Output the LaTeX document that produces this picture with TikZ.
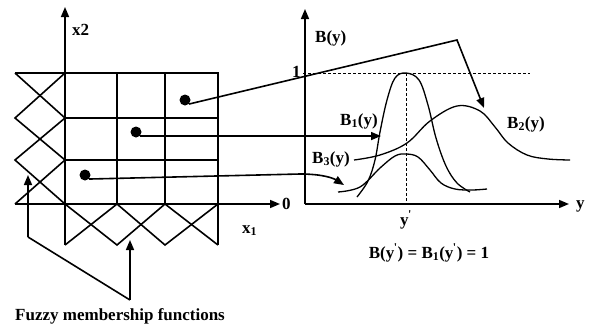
\documentclass[tikz,border=0pt]{standalone}
\usepackage{fontspec}
\setmainfont{Liberation Serif}
\usetikzlibrary{arrows.meta}
\newcommand{\prm}{\kern-0.5pt\textsuperscript{\textquotesingle}}
\begin{document}
\begin{tikzpicture}[x=1pt,y=-1pt,
  ln/.style={line width=1.6pt},
  thin/.style={line width=1.3pt},
  arr/.style={line width=1.6pt,-{Triangle[length=10pt,width=8pt]}},
  dot/.style={circle,fill=black,inner sep=0pt,minimum size=11pt},
  lbl/.style={font=\bfseries\fontsize{17}{19}\selectfont,inner sep=0pt},
  dsh/.style={line width=1pt,dash pattern=on 3pt off 2pt}]
\useasboundingbox (0,0) rectangle (589,335);
% ---- left grid
\draw[ln] (15,73) -- (218,73) -- (218,245);
\draw[ln] (65,118) -- (218,118);
\draw[ln] (65,160) -- (218,160);
\draw[ln] (117,73) -- (117,204);
\draw[ln] (165,73) -- (165,204);
\draw[ln] (65,204) -- (65,245);
% left membership functions
\draw[ln] (15,73) -- (65,118) -- (15,160) -- (65,204);
\draw[ln] (65,73) -- (15,118) -- (65,160) -- (15,204);
% bottom membership functions
\draw[ln] (65,245) -- (117,204) -- (165,245) -- (218,204);
\draw[ln] (65,204) -- (117,245) -- (165,204) -- (218,245);
% axes
\coordinate (x2b) at (65,7);
\draw[arr] (65,204) -- (x2b);
\coordinate (x1a) at (15,204);
\coordinate (x1b) at (280,204);
\draw[arr] (x1a) -- (x1b);
\node[lbl,anchor=base west] (lx2) at (72,35) {x2};
\node[lbl,anchor=base west] (lx1) at (242,233) {x\textsubscript{1}};
\node[lbl,anchor=base west] (l0) at (282,209) {0};
% dots
\node[dot] (d1) at (185,100) {};
\node[dot] (d2) at (136,132) {};
\node[dot] (d3) at (85,175) {};
% fuzzy membership arrows
\coordinate (j1) at (28,237);
\coordinate (j2) at (130,300);
\coordinate (t1) at (28,175);
\coordinate (t2) at (130,240);
\draw[ln] (j1) -- (j2);
\draw[arr] (j1) -- (t1);
\draw[arr] (j2) -- (t2);
\node[lbl,anchor=base west] (fz) at (15,320) {Fuzzy membership functions};
% ---- right plot
\coordinate (ya) at (305,204);
\coordinate (yb) at (305,9);
\draw[arr] (ya) -- (yb);
\coordinate (xb) at (569,204);
\draw[arr] (ya) -- (xb);
\node[lbl,anchor=base west] (ly) at (576,208) {y};
\node[lbl,anchor=base west] (lB) at (315,42) {B(y)};
\node[lbl,anchor=base west] (l1) at (292,77) {1};
\draw[dsh] (303,73) -- (530,73);
\draw[dsh] (406,73) -- (406,204);
\node[lbl,anchor=base west] (lyp) at (400,225) {y\prm};
\node[lbl,anchor=base] (eq) at (429,258) {B(y\prm) = B\textsubscript{1}(y\prm) = 1};
% curves
\draw[thin] plot[smooth,tension=0.6] coordinates {(357,197) (368,181) (375,160) (380,132) (387,100) (395,78) (406,73) (419,80) (428,105) (436,138) (446,166) (457,183) (470,192)};
\draw[thin] plot[smooth,tension=0.6] coordinates {(338,192) (360,187) (380,168) (395,156) (406,154) (418,157) (430,170) (441,183) (455,189) (472,190) (487,189)};
\draw[thin] plot[smooth,tension=0.6] coordinates {(354,160) (380,155) (407,143) (430,121) (457,106) (480,111) (495,127) (508,143) (527,155) (548,159) (570,160)};
\node[lbl,anchor=base west] (lB1) at (340,125) {B\textsubscript{1}(y)};
\node[lbl,anchor=base west] (lB3) at (312,163) {B\textsubscript{3}(y)};
\node[lbl,anchor=base west] (lB2) at (507,128) {B\textsubscript{2}(y)};
% connectors from dots
\coordinate (k1) at (457,40);
\coordinate (e1) at (484,108);
\draw[arr] (d1.south east) -- (k1) -- (e1);
\coordinate (e2) at (381,140);
\draw[arr] (d2.south east) -- (d2.south east -| e2);
\coordinate (k3) at (300,174);
\coordinate (e3) at (344,185);
\draw[arr] (d3.south east) -- (k3) .. controls (322,174) and (333,178) .. (e3);
\end{tikzpicture}
\end{document}
